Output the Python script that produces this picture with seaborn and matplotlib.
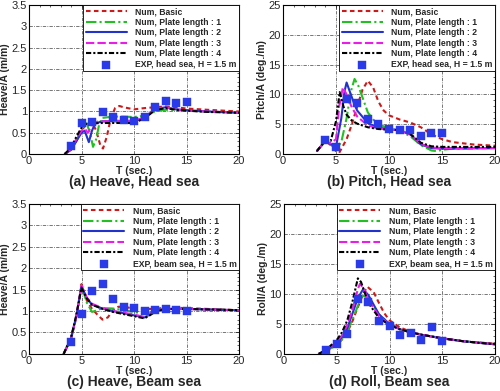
import numpy as np
import pandas as pd
import matplotlib
matplotlib.use("Agg")
import matplotlib.pyplot as plt
import seaborn as sns

# ---- (a) Heave, head sea ----
a_basic_t = [3.4, 4, 4.5, 5, 5.5, 6, 6.4, 6.8, 7.05, 7.4, 7.8, 8.2, 8.6, 9, 10, 11, 12, 13, 14, 15, 17, 20]
a_basic_y = [0, 0.1, 0.3, 0.55, 0.72, 0.75, 0.55, 0.2, 0.13, 0.4, 0.85, 1.08, 1.13, 1.1, 1.05, 1.08, 1.1, 1.12, 1.1, 1.07, 1.04, 1.0]
a_p1_t = [3.4, 4, 4.5, 5, 5.5, 5.8, 6.1, 6.4, 6.7, 7, 8, 9, 10, 11, 12, 13, 14, 15, 17, 20]
a_p1_y = [0, 0.1, 0.3, 0.6, 0.72, 0.5, 0.17, 0.35, 0.72, 0.85, 0.88, 0.88, 0.87, 0.9, 1.0, 1.04, 1.04, 1.02, 1.0, 0.97]
a_p2_t = [3.4, 4, 4.5, 5, 5.3, 5.7, 6, 6.3, 7, 8, 9, 10, 11, 12, 13, 14, 15, 17, 20]
a_p2_y = [0, 0.1, 0.3, 0.5, 0.55, 0.28, 0.55, 0.72, 0.77, 0.77, 0.76, 0.76, 0.86, 1.05, 1.1, 1.05, 1.03, 1.0, 0.97]
a_p3_t = [3.4, 4, 4.5, 5, 5.3, 5.6, 6, 6.5, 8, 10, 11, 12, 13, 14, 15, 17, 20]
a_p3_y = [0, 0.12, 0.35, 0.55, 0.6, 0.5, 0.68, 0.76, 0.78, 0.78, 0.86, 1.05, 1.1, 1.05, 1.02, 1.0, 0.97]
a_p4_t = [3.4, 4, 4.5, 5, 5.3, 5.6, 6, 7, 8, 9, 10, 11, 12, 13, 14, 15, 17, 20]
a_p4_y = [0, 0.15, 0.4, 0.62, 0.72, 0.7, 0.72, 0.73, 0.73, 0.73, 0.73, 0.84, 1.03, 1.08, 1.04, 1.02, 0.99, 0.97]
a_exp_t = [4, 5, 6, 7, 8, 9, 10, 11, 12, 13, 14, 15]
a_exp_y = [0.2, 0.72, 0.76, 0.98, 0.87, 0.8, 0.78, 0.86, 1.1, 1.24, 1.2, 1.22]

# ---- (b) Pitch, head sea ----
b_basic_t = [3.2, 4, 4.5, 5, 5.3, 6, 6.5, 7, 7.5, 8, 8.5, 9, 9.5, 10, 11, 12, 13, 14, 15, 16, 18, 20]
b_basic_y = [0.5, 2.2, 1.5, 0.5, 0.2, 2.5, 5, 8, 10.8, 12.3, 11.2, 8.8, 7.3, 6.5, 5.8, 5.3, 4.5, 3.3, 2.5, 2.0, 1.6, 1.4]
b_p1_t = [3.2, 4, 4.5, 5, 5.5, 6, 6.4, 6.75, 7.1, 7.5, 8, 8.5, 9, 10, 11, 12, 13, 14, 14.5, 15, 16, 20]
b_p1_y = [0.5, 2.2, 1.6, 0.8, 2.0, 6, 10.5, 12.6, 11.5, 9.5, 7, 5.8, 5.0, 4.3, 3.9, 3.0, 1.5, 0.6, 0.5, 0.7, 0.9, 1.0]
b_p2_t = [3.2, 4, 4.5, 5, 5.5, 5.8, 6.0, 6.3, 6.7, 7, 8, 9, 10, 11, 12, 13, 14, 15, 20]
b_p2_y = [0.5, 2.2, 1.7, 1.2, 6, 10.5, 12, 10.5, 8.5, 7.3, 5.2, 4.4, 4.2, 4.0, 3.3, 1.6, 1.0, 0.9, 1.0]
b_p3_t = [3.2, 4, 4.5, 5, 5.3, 5.65, 6, 6.5, 7, 8, 9, 10, 11, 12, 13, 14, 15, 20]
b_p3_y = [0.5, 2.2, 1.8, 2.5, 8, 11.2, 10, 7.8, 6.3, 4.8, 4.3, 4.1, 4.0, 3.3, 1.7, 1.1, 1.0, 1.0]
b_p4_t = [3.2, 4, 4.5, 5, 5.35, 5.7, 6, 6.5, 7, 8, 9, 10, 11, 12, 13, 14, 15, 20]
b_p4_y = [0.5, 2.3, 2.2, 5.5, 10.4, 8, 6.6, 5.6, 5.1, 4.5, 4.2, 4.1, 4.0, 3.4, 1.9, 1.3, 1.2, 1.2]
b_exp_t = [4, 5, 6, 7, 8, 9, 10, 11, 12, 13, 14, 15]
b_exp_y = [2.3, 1.2, 9.3, 8.6, 5.8, 5.1, 4.2, 4.1, 4.0, 3.0, 3.5, 3.5]

# ---- (c) Heave, beam sea ----
c_basic_t = [3.3, 4, 4.5, 5, 5.5, 6, 6.5, 7, 7.5, 8, 8.5, 9, 10, 11, 12, 13, 15, 20]
c_basic_y = [0, 0.35, 0.85, 1.63, 1.25, 1.05, 0.92, 0.8, 0.85, 1.02, 1.1, 1.1, 1.06, 1.05, 1.05, 1.08, 1.07, 1.02]
c_p1_t = [3.3, 4, 4.5, 5, 5.5, 6, 6.5, 7, 8, 9, 10, 11, 11.5, 12, 13, 15, 20]
c_p1_y = [0, 0.35, 0.85, 1.6, 1.2, 0.98, 1.02, 1.07, 1.06, 1.02, 0.98, 0.93, 0.95, 1.0, 1.06, 1.05, 1.02]
c_p2_t = [3.3, 4, 4.5, 5, 5.5, 6, 7, 8, 9, 10, 11, 11.5, 12, 13, 15, 20]
c_p2_y = [0, 0.36, 0.87, 1.58, 1.3, 1.15, 1.06, 1.0, 0.95, 0.9, 0.85, 0.92, 1.0, 1.05, 1.05, 1.02]
c_p3_t = [3.3, 4, 4.5, 5, 5.5, 6, 7, 8, 9, 10, 11, 11.5, 12, 13, 15, 20]
c_p3_y = [0, 0.36, 0.88, 1.6, 1.32, 1.17, 1.07, 1.0, 0.96, 0.92, 0.86, 0.93, 1.0, 1.05, 1.05, 1.02]
c_p4_t = [3.3, 4, 4.5, 5, 5.5, 6, 7, 8, 9, 10, 11, 11.5, 12, 13, 15, 20]
c_p4_y = [0, 0.38, 0.9, 1.55, 1.3, 1.15, 1.05, 0.98, 0.93, 0.88, 0.83, 0.9, 0.98, 1.05, 1.05, 1.02]
c_exp_t = [4, 5, 6, 7, 8, 9, 10, 11, 12, 13, 14, 15]
c_exp_y = [0.28, 0.92, 1.48, 1.63, 1.28, 1.1, 1.07, 1.0, 1.03, 1.06, 1.02, 1.01]

# ---- (d) Roll, beam sea ----
d_basic_t = [3.3, 4, 5, 5.5, 6, 6.5, 7, 7.5, 7.9, 8.5, 9, 9.5, 10, 11, 12, 13, 15, 17, 20]
d_basic_y = [0, 0.4, 1.5, 2.4, 3.6, 5.5, 7.8, 10.0, 11.2, 10.3, 8.5, 6.8, 5.6, 4.4, 3.7, 3.2, 2.6, 2.1, 1.7]
d_p1_t = [3.3, 4, 5, 5.5, 6, 6.5, 7, 7.5, 8, 8.5, 9, 10, 11, 12, 13, 15, 17, 20]
d_p1_y = [0, 0.4, 1.5, 2.4, 3.8, 5.8, 8.0, 9.7, 9.3, 8.0, 6.6, 5.0, 4.1, 3.6, 3.2, 2.6, 2.1, 1.6]
d_p2_t = [3.3, 4, 5, 5.5, 6, 6.5, 7, 7.5, 8, 8.5, 9, 10, 11, 12, 13, 15, 17, 20]
d_p2_y = [0, 0.5, 1.8, 2.8, 4.3, 6.8, 9.3, 10.8, 9.8, 8.2, 6.6, 5.0, 4.1, 3.6, 3.2, 2.6, 2.1, 1.6]
d_p3_t = [3.3, 4, 5, 5.5, 6, 6.5, 7, 7.2, 7.6, 8, 9, 10, 11, 12, 13, 15, 17, 20]
d_p3_y = [0, 0.6, 2.0, 3.1, 4.8, 7.5, 10.8, 11.7, 10.8, 9.0, 6.3, 4.9, 4.1, 3.6, 3.2, 2.6, 2.1, 1.6]
d_p4_t = [3.3, 4, 5, 5.5, 6, 6.5, 7, 7.3, 7.7, 8, 9, 10, 11, 12, 13, 15, 17, 20]
d_p4_y = [0, 0.7, 2.3, 3.6, 5.6, 8.8, 12.6, 12.0, 10.0, 8.5, 6.0, 4.8, 4.1, 3.6, 3.2, 2.6, 2.1, 1.6]
d_exp_t = [4, 5, 6, 7, 8, 9, 10, 11, 12, 13, 14, 15]
d_exp_y = [0.6, 1.6, 3.3, 9.1, 8.7, 5.5, 4.6, 3.1, 3.4, 2.3, 4.4, 2.2]

num_labels = ["Num, Basic", "Num, Plate length : 1", "Num, Plate length : 2",
              "Num, Plate length : 3", "Num, Plate length : 4"]
num_colors = ["#cc1a1a", "#22c022", "#2233cc", "#e81ee8", "#000000"]
num_styles = [(0, (2.2, 1.6)), (0, (5, 1.5, 1, 1.5)), "-", (0, (4, 1.5)), (0, (2.5, 1, 1, 1))]
exp_color = "#2a3ae8"

sns.set_style("white")
plt.rcParams["font.family"] = ["Liberation Sans", "DejaVu Sans"]

fig = plt.figure(figsize=(5, 3.91), dpi=100)
positions = [
    [0.058, 0.606, 0.420, 0.381],
    [0.566, 0.606, 0.424, 0.381],
    [0.058, 0.095, 0.420, 0.383],
    [0.568, 0.095, 0.422, 0.383],
]

panels = [
    ([(a_basic_t, a_basic_y), (a_p1_t, a_p1_y), (a_p2_t, a_p2_y), (a_p3_t, a_p3_y), (a_p4_t, a_p4_y)],
     (a_exp_t, a_exp_y), "EXP, head sea, H = 1.5 m", "Heave/A (m/m)", 3.5, 0.5, "(a) Heave, Head sea"),
    ([(b_basic_t, b_basic_y), (b_p1_t, b_p1_y), (b_p2_t, b_p2_y), (b_p3_t, b_p3_y), (b_p4_t, b_p4_y)],
     (b_exp_t, b_exp_y), "EXP, head sea, H = 1.5 m", "Pitch/A (deg./m)", 25, 5, "(b) Pitch, Head sea"),
    ([(c_basic_t, c_basic_y), (c_p1_t, c_p1_y), (c_p2_t, c_p2_y), (c_p3_t, c_p3_y), (c_p4_t, c_p4_y)],
     (c_exp_t, c_exp_y), "EXP, beam sea, H = 1.5 m", "Heave/A (m/m)", 3.5, 0.5, "(c) Heave, Beam sea"),
    ([(d_basic_t, d_basic_y), (d_p1_t, d_p1_y), (d_p2_t, d_p2_y), (d_p3_t, d_p3_y), (d_p4_t, d_p4_y)],
     (d_exp_t, d_exp_y), "EXP, beam sea, H = 1.5 m", "Roll/A (deg./m)", 25, 5, "(d) Roll, Beam sea"),
]

for pos, (curves, exp, exp_label, ylab, ymax, ystep, title) in zip(positions, panels):
    ax = fig.add_axes(pos)
    for (t, y), lab, col, ls in zip(curves, num_labels, num_colors, num_styles):
        sns.lineplot(x=t, y=y, ax=ax, color=col, linestyle=ls, linewidth=1.5,
                     label=lab, sort=False, estimator=None)
    sns.scatterplot(x=exp[0], y=exp[1], ax=ax, color=exp_color, marker="s", s=40,
                    edgecolor=exp_color, linewidth=0.3, label=exp_label, zorder=5)

    ax.set_xlim(0, 20)
    ax.set_ylim(0, ymax)
    ax.set_xticks(np.arange(0, 21, 5))
    ax.set_yticks(np.arange(0, ymax + 1e-9, ystep))
    ax.set_xticklabels([str(v) for v in range(0, 21, 5)])
    ax.set_yticklabels([f"{v:g}" for v in np.arange(0, ymax + 1e-9, ystep)])
    ax.grid(True, color="#606060", linestyle=(0, (4, 1.5, 1, 1.5)), linewidth=0.6)
    ax.set_axisbelow(True)
    ax.minorticks_on()
    ax.tick_params(which="major", direction="in", length=3, width=0.6, labelsize=8, pad=1.5,
                   top=True, right=True)
    ax.tick_params(which="minor", direction="in", length=1.5, width=0.5, top=True, right=True)
    for sp in ax.spines.values():
        sp.set_linewidth(0.8)
        sp.set_color("black")
    ax.set_xlabel("T (sec.)", fontsize=7.5, fontweight="bold", labelpad=0)
    ax.set_ylabel(ylab, fontsize=7.5, fontweight="bold", labelpad=1)
    ax.text(0.5, -0.185, title, transform=ax.transAxes, ha="center", va="center",
            fontsize=10, fontweight="bold")

    leg = ax.legend(loc="upper right", bbox_to_anchor=(1, 1), borderaxespad=0,
                    fancybox=False, framealpha=1, edgecolor="black",
                    prop={"size": 6.2, "weight": "bold"}, handlelength=4.8,
                    labelspacing=0.18, borderpad=0.25, handletextpad=1.0)
    leg.get_frame().set_linewidth(0.6)

fig.savefig("out.png", dpi=100)
